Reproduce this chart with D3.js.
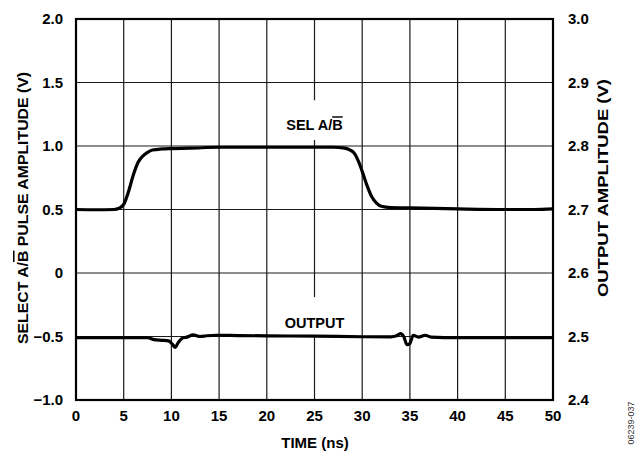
<!DOCTYPE html>
<html><head><meta charset="utf-8">
<script src="https://cdn.jsdelivr.net/npm/d3@7"></script>
<style>
body{margin:0;background:#fff;}
text{font-family:"Liberation Sans",Arial,sans-serif;font-weight:bold;fill:#000;}
</style></head>
<body><svg id="c" width="637" height="453"></svg>
<script>
const timeTicks=[0,5,10,15,20,25,30,35,40,45,50];
const leftTicks=[2.0,1.5,1.0,0.5,0,-0.5,-1.0];
const leftTickLabels=["2.0","1.5","1.0","0.5","0","\u22120.5","\u22121.0"];
const rightTicks=[3.0,2.9,2.8,2.7,2.6,2.5,2.4];
const rightTickLabels=["3.0","2.9","2.8","2.7","2.6","2.5","2.4"];
// SEL A/B pulse (left axis, V)
const selTime=[0,2,4,4.5,5,5.5,6,6.5,7,7.5,8,9,10,12,15,20,25,27,28,28.7,29.2,29.6,30,30.5,31,31.5,32,33,35,40,45,48,50];
const selValue=[0.50,0.498,0.50,0.51,0.54,0.64,0.77,0.87,0.92,0.95,0.968,0.977,0.98,0.983,0.99,0.99,0.99,0.99,0.985,0.97,0.94,0.88,0.80,0.69,0.60,0.55,0.525,0.515,0.513,0.505,0.50,0.50,0.505];
// OUTPUT (right axis, V)
const outTime=[0,5,7.5,8.2,9,9.7,10.1,10.4,10.7,11.1,11.6,12.3,13,13.7,14.7,17,20,25,30,33,33.6,34,34.35,34.7,35,35.35,35.9,36.6,37.2,40,45,50];
const outValue=[2.498,2.498,2.498,2.495,2.494,2.493,2.488,2.483,2.49,2.497,2.499,2.5025,2.5,2.5012,2.502,2.5015,2.501,2.5006,2.4996,2.4994,2.501,2.5046,2.50,2.487,2.489,2.502,2.499,2.502,2.499,2.498,2.498,2.498];

const svg=d3.select("#c");
const L=76,R=553,T=19,B=400;
const x=d3.scaleLinear().domain([0,50]).range([L,R]);
const yL=d3.scaleLinear().domain([-1,2]).range([B,T]);
const yR=d3.scaleLinear().domain([2.4,3.0]).range([B,T]);

const grid=svg.append("g").attr("stroke","#1a1a1a").attr("stroke-width",1.2);
leftTicks.forEach(v=>grid.append("line").attr("x1",L).attr("x2",R).attr("y1",yL(v)).attr("y2",yL(v)));
timeTicks.forEach(t=>{
  if(t===25){
    [[2.0,1.36],[1.047,-0.19],[-0.5,-1.0]].forEach(s=>grid.append("line").attr("x1",x(t)).attr("x2",x(t)).attr("y1",yL(s[0])).attr("y2",yL(s[1])));
  } else {
    grid.append("line").attr("x1",x(t)).attr("x2",x(t)).attr("y1",T).attr("y2",B);
  }
});
svg.append("rect").attr("x",L).attr("y",T).attr("width",R-L).attr("height",B-T).attr("fill","none").attr("stroke","#000").attr("stroke-width",2.2);

const lineSel=d3.line().x((d,i)=>x(selTime[i])).y((d,i)=>yL(selValue[i])).curve(d3.curveMonotoneX);
svg.append("path").attr("d",lineSel(selTime)).attr("fill","none").attr("stroke","#000").attr("stroke-width",3.2);
const lineOut=d3.line().x((d,i)=>x(outTime[i])).y((d,i)=>yR(outValue[i])).curve(d3.curveMonotoneX);
svg.append("path").attr("d",lineOut(outTime)).attr("fill","none").attr("stroke","#000").attr("stroke-width",3.2);

leftTicks.forEach((v,i)=>svg.append("text").attr("x",63).attr("y",yL(v)).attr("dy","0.36em").attr("text-anchor","end").attr("font-size",15).text(leftTickLabels[i]));
rightTicks.forEach((v,i)=>svg.append("text").attr("x",568).attr("y",yR(v)).attr("dy","0.36em").attr("text-anchor","start").attr("font-size",15).text(rightTickLabels[i]));
timeTicks.forEach(t=>svg.append("text").attr("x",x(t)).attr("y",421).attr("text-anchor","middle").attr("font-size",15).text(t));

svg.append("text").attr("x",315).attr("y",448).attr("text-anchor","middle").attr("font-size",15).text("TIME (ns)");

const lt=svg.append("text").attr("transform","translate(28,208) rotate(-90)").attr("text-anchor","middle").attr("font-size",15.5)
  .attr("textLength",272).attr("lengthAdjust","spacingAndGlyphs");
lt.append("tspan").text("SELECT A/");
lt.append("tspan").style("text-decoration","overline").text("B");
lt.append("tspan").text(" PULSE AMPLITUDE (V)");
svg.append("text").attr("transform","translate(608,188) rotate(-90)").attr("text-anchor","middle").attr("font-size",15.5)
  .attr("textLength",218).attr("lengthAdjust","spacingAndGlyphs").text("OUTPUT AMPLITUDE (V)");

const sl=svg.append("text").attr("x",x(25)).attr("y",yL(1.165)).attr("dy","0.36em").attr("text-anchor","middle").attr("font-size",14.5);
sl.append("tspan").text("SEL A/");
sl.append("tspan").style("text-decoration","overline").text("B");
svg.append("text").attr("x",x(25)).attr("y",yL(-0.39)).attr("dy","0.36em").attr("text-anchor","middle").attr("font-size",14.5).text("OUTPUT");

svg.append("text").attr("transform","translate(634,423) rotate(-90)").attr("text-anchor","middle").attr("font-size",9).style("font-weight","normal").style("fill","#333").text("06239-037");
</script></body></html>
